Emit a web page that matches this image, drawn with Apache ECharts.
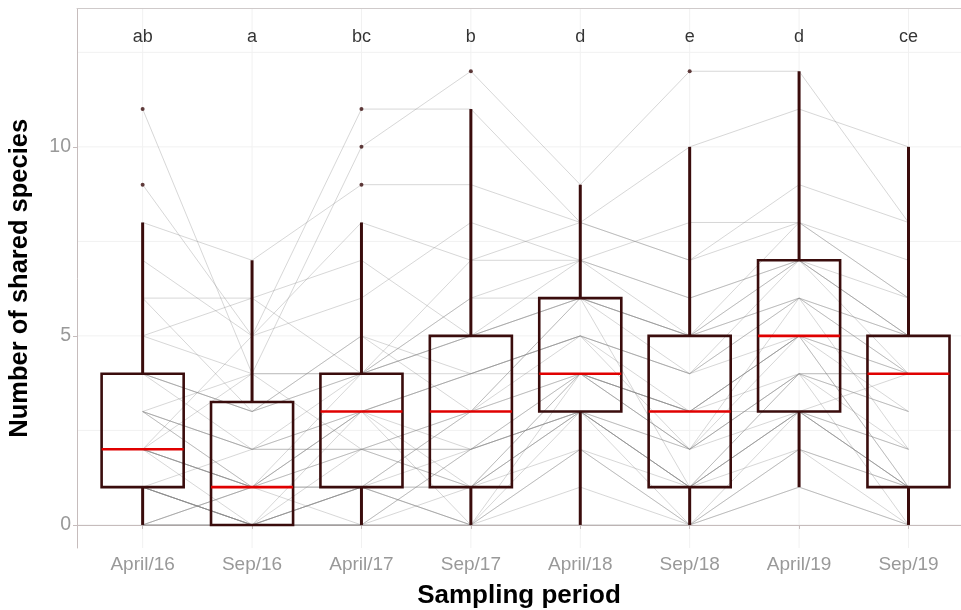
<!DOCTYPE html>
<html>
<head>
<meta charset="utf-8">
<script src="https://cdn.jsdelivr.net/npm/echarts@6/dist/echarts.min.js"></script>
<style>
  html, body { margin: 0; padding: 0; background: #fff; }
  #shared-species { width: 961px; height: 610px; }
</style>
</head>
<body>
<div id="shared-species"></div>
<script>
const periods = ['April/16', 'Sep/16', 'April/17', 'Sep/17', 'April/18', 'Sep/18', 'April/19', 'Sep/19'];
const letters = ['ab', 'a', 'bc', 'b', 'd', 'e', 'd', 'ce'];

// box stats
const boxLow = [0, 0, 0, 0, 0, 0, 1, 0];
const boxQ1 = [1, 0, 1, 1, 3, 1, 3, 1];
const boxMedian = [2, 1, 3, 3, 4, 3, 5, 4];
const boxQ3 = [4, 3.25, 4, 5, 6, 5, 7, 5];
const boxHigh = [8, 7, 8, 11, 9, 10, 12, 10];
const outliers = [[1, 9], [1, 11], [3, 9], [3, 10], [3, 11], [4, 12], [6, 12]];

// one row per sampled site, value per period (grey paired lines)
const subjects = [
  [2, 1, 3, 4, 4, 3, 5, 4], [0, 0, 1, 0, 3, 0, 3, 1], [4, 3, 4, 5, 6, 5, 7, 5], [1, 0, 0, 2, 3, 1, 2, 0],
  [3, 2, 2, 3, 5, 2, 4, 4], [2, 1, 3, 1, 4, 3, 5, 1], [11, 4, 10, 12, 9, 12, 12, 8], [1, 0, 1, 2, 3, 1, 3, 1],
  [0, 1, 0, 0, 2, 0, 1, 0], [5, 6, 4, 7, 7, 5, 8, 6], [2, 0, 1, 3, 4, 2, 4, 4], [3, 1, 4, 5, 6, 4, 6, 5],
  [1, 0, 2, 1, 3, 1, 3, 2], [9, 5, 11, 11, 8, 10, 11, 10], [0, 0, 1, 0, 0, 0, 2, 1], [4, 2, 3, 4, 5, 3, 5, 4],
  [2, 1, 2, 3, 4, 2, 4, 3], [1, 0, 0, 2, 3, 1, 3, 1], [6, 3, 4, 6, 7, 6, 7, 5], [3, 4, 4, 5, 6, 5, 6, 4],
  [0, 0, 1, 1, 2, 0, 1, 0], [2, 1, 3, 0, 4, 3, 4, 2], [1, 2, 2, 2, 3, 2, 3, 1], [8, 7, 9, 9, 8, 7, 9, 8],
  [4, 3, 5, 4, 5, 4, 5, 5], [3, 1, 1, 3, 6, 1, 3, 4], [1, 0, 0, 0, 1, 0, 2, 1], [2, 5, 6, 8, 7, 8, 8, 7],
  [0, 1, 1, 1, 3, 1, 4, 3], [5, 4, 4, 6, 6, 5, 7, 5], [7, 5, 8, 7, 8, 7, 8, 6], [1, 0, 3, 2, 4, 3, 3, 2],
  [3, 2, 4, 4, 5, 4, 6, 4], [2, 1, 2, 1, 3, 2, 5, 1], [6, 6, 7, 5, 7, 6, 7, 6], [0, 1, 1, 0, 2, 1, 4, 0],
  [4, 3, 5, 3, 6, 5, 6, 5], [1, 0, 0, 1, 4, 3, 5, 3], [3, 2, 3, 4, 5, 4, 7, 4], [2, 4, 2, 2, 4, 2, 6, 2]
];

const yTicks = [0, 5, 10];
const yMinor = [2.5, 7.5, 12.5];
const xTicks = [1, 2, 3, 4, 5, 6, 7, 8];

const boxColor = '#3a0c0c';
const axisColor = '#c6bcbc';
const xMin = 0.4, xMax = 8.48;
const yMin = -0.61, yMax = 13.66;

let myChart = echarts.init(document.getElementById('shared-species'));

let boxData = periods.map((p, i) => [i + 1, boxLow[i], boxQ1[i], boxMedian[i], boxQ3[i], boxHigh[i]]);

// [orientation, value] : 0 = horizontal line at y, 1 = vertical line at x
let gridData = yTicks.concat(yMinor).map(v => [0, v]).concat(xTicks.map(v => [1, v]));

let lineSeries = subjects.map(s => ({
  type: 'line',
  data: s.map((v, i) => [i + 1, v]),
  symbol: 'none',
  silent: true,
  z: 2,
  lineStyle: { color: 'rgba(130,130,130,0.32)', width: 1 }
}));

let option = {
  animation: false,
  textStyle: { fontFamily: 'Liberation Sans, Arial, sans-serif' },
  grid: { left: 77, right: 0, top: 8.5, bottom: 62, outerBoundsMode: 'none' },
  xAxis: [{
    type: 'value',
    min: xMin,
    max: xMax,
    name: 'Sampling period',
    nameLocation: 'middle',
    nameGap: 35,
    nameTextStyle: { color: '#000', fontSize: 26, fontWeight: 'bold' },
    axisLine: { show: true, lineStyle: { color: axisColor } },
    axisTick: { show: true, length: 4, customValues: xTicks, lineStyle: { color: axisColor } },
    axisLabel: {
      customValues: xTicks,
      color: '#999',
      fontSize: 19,
      margin: 7,
      formatter: v => periods[Math.round(v) - 1]
    },
    splitLine: { show: false }
  }, {
    type: 'value',
    position: 'top',
    min: xMin,
    max: xMax,
    axisLine: { show: true, lineStyle: { color: '#cfcaca' } },
    axisTick: { show: false },
    axisLabel: { show: false },
    splitLine: { show: false }
  }],
  yAxis: {
    type: 'value',
    min: yMin,
    max: yMax,
    name: 'Number of shared species',
    nameLocation: 'middle',
    nameGap: 44,
    nameTextStyle: { color: '#000', fontSize: 25.5, fontWeight: 'bold' },
    axisLine: { show: true, lineStyle: { color: axisColor } },
    axisTick: { show: true, length: 4, customValues: yTicks, lineStyle: { color: axisColor } },
    axisLabel: { customValues: yTicks, color: '#999', fontSize: 19.5, margin: 6 },
    splitLine: { show: false }
  },
  series: [
    {
      // faint panel grid
      type: 'custom',
      z: 0,
      silent: true,
      data: gridData,
      renderItem: function (params, api) {
        let v = api.value(1);
        let a, b;
        if (api.value(0) === 0) {
          a = api.coord([xMin, v]); b = api.coord([xMax, v]);
        } else {
          a = api.coord([v, yMin]); b = api.coord([v, yMax]);
        }
        return {
          type: 'line',
          shape: { x1: a[0], y1: a[1], x2: b[0], y2: b[1] },
          style: { stroke: '#f1f1f1', lineWidth: 1 }
        };
      }
    }
  ].concat(lineSeries).concat([
    {
      type: 'custom',
      z: 3,
      silent: true,
      data: boxData,
      encode: { x: 0, y: [1, 2, 3, 4, 5] },
      renderItem: function (params, api) {
        let x = api.value(0);
        let lo = api.coord([x, api.value(1)]);
        let q1 = api.coord([x, api.value(2)]);
        let q3 = api.coord([x, api.value(4)]);
        let hi = api.coord([x, api.value(5)]);
        let w = api.size([0.75, 0])[0];
        let whisker = { stroke: boxColor, lineWidth: 3 };
        return {
          type: 'group',
          children: [
            { type: 'line', shape: { x1: lo[0], y1: lo[1], x2: q1[0], y2: q1[1] }, style: whisker },
            { type: 'line', shape: { x1: q3[0], y1: q3[1], x2: hi[0], y2: hi[1] }, style: whisker },
            {
              type: 'rect',
              shape: { x: q3[0] - w / 2, y: q3[1], width: w, height: q1[1] - q3[1] },
              style: { stroke: boxColor, lineWidth: 2.6, fill: null }
            }
          ]
        };
      }
    },
    {
      type: 'custom',
      z: 4,
      silent: true,
      data: boxData.map(d => [d[0], d[3]]),
      encode: { x: 0, y: 1 },
      renderItem: function (params, api) {
        let p = api.coord([api.value(0), api.value(1)]);
        let w = api.size([0.75, 0])[0];
        return {
          type: 'line',
          shape: { x1: p[0] - w / 2, y1: p[1], x2: p[0] + w / 2, y2: p[1] },
          style: { stroke: '#e00000', lineWidth: 2.6 }
        };
      }
    },
    {
      type: 'scatter',
      z: 5,
      silent: true,
      data: outliers,
      symbolSize: 4,
      itemStyle: { color: boxColor }
    },
    {
      type: 'scatter',
      z: 5,
      silent: true,
      symbolSize: 0,
      data: periods.map((p, i) => [i + 1, 12.9]),
      label: {
        show: true,
        position: 'inside',
        color: '#000',
        fontSize: 18,
        formatter: params => letters[params.dataIndex]
      }
    }
  ])
};
myChart.setOption(option);

window.addEventListener('resize', function () {
  myChart.resize();
});
</script>
</body>
</html>
